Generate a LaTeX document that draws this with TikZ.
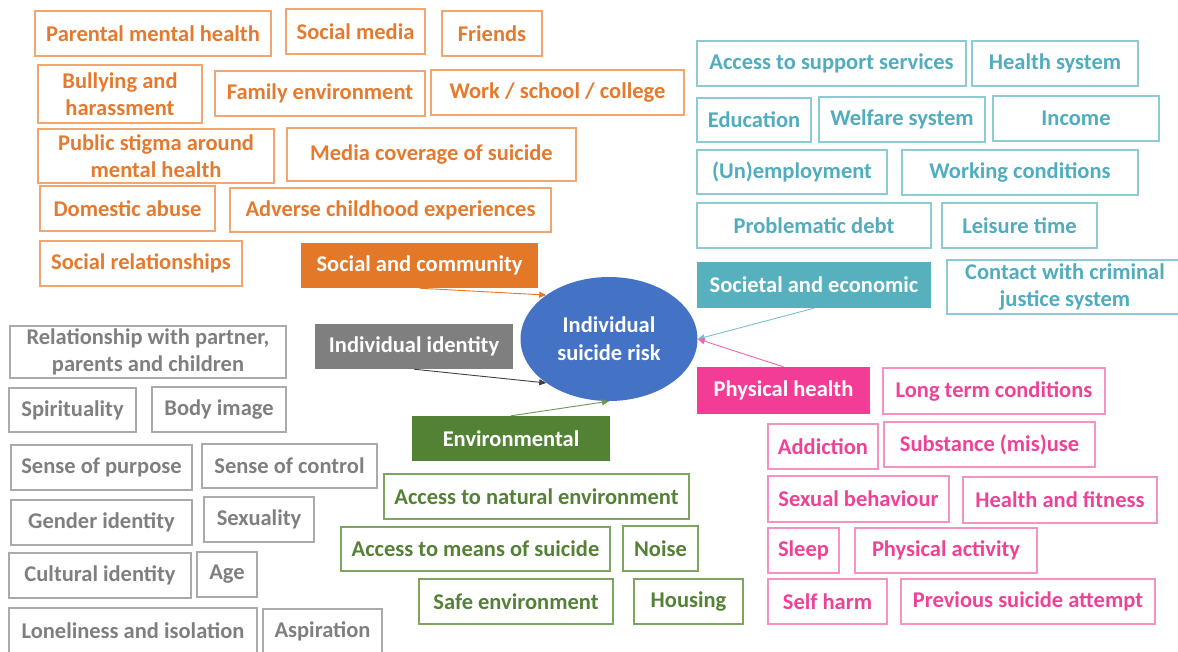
\documentclass[tikz,border=0pt]{standalone}
\usepackage{fontspec}
\setmainfont{Carlito}
\usetikzlibrary{shapes.geometric,arrows.meta}
\definecolor{orT}{RGB}{229,122,46}
\definecolor{orB}{RGB}{242,165,110}
\definecolor{orF}{RGB}{226,120,40}
\definecolor{tlT}{RGB}{80,172,190}
\definecolor{tlB}{RGB}{140,202,212}
\definecolor{tlF}{RGB}{86,176,190}
\definecolor{grT}{RGB}{127,127,127}
\definecolor{grB}{RGB}{170,170,170}
\definecolor{grF}{RGB}{127,127,127}
\definecolor{gnT}{RGB}{84,130,53}
\definecolor{gnB}{RGB}{125,165,95}
\definecolor{gnF}{RGB}{84,130,53}
\definecolor{pkT}{RGB}{238,66,150}
\definecolor{pkB}{RGB}{245,145,195}
\definecolor{pkF}{RGB}{242,60,150}
\definecolor{blF}{RGB}{68,114,196}
\tikzset{
  txt/.style={inner sep=0pt, align=center, font=\fontsize{22.5}{27}\selectfont\bfseries},
  bx/.style={txt, draw, line width=1.4pt},
  ob/.style={bx, draw=orB, text=orT},
  tb/.style={bx, draw=tlB, text=tlT},
  gb/.style={bx, draw=grB, text=grT},
  nb/.style={bx, draw=gnB, text=gnT},
  pb/.style={bx, draw=pkB, text=pkT},
  cat/.style={txt, text=white},
  arr/.style={line width=0.9pt, -{Triangle[length=7pt,width=6pt]}}
}
% #1 style, #2 x1, #3 y1, #4 x2, #5 y2, #6 name, #7 text
\newcommand\bxnode[7]{\node[#1, minimum width={(#4)-(#2)}, minimum height={(#5)-(#3)}] (#6) at ({((#2)+(#4))/2},{((#3)+(#5))/2}) {#7};}
\begin{document}
\begin{tikzpicture}[x=1pt,y=-1pt]
\useasboundingbox (0,0) rectangle (1178,651);
% orange
\bxnode{ob}{35}{11}{271}{56}{pmh}{Parental mental health}
\bxnode{ob}{286}{9}{425}{54}{smd}{Social media}
\bxnode{ob}{442}{11}{542}{56}{frd}{Friends}
\bxnode{ob}{38}{65}{202}{123}{bul}{Bullying and\\harassment}
\bxnode{ob}{215}{71}{425}{116}{fam}{Family environment}
\bxnode{ob}{431}{70}{684}{115}{wsc}{Work / school / college}
\bxnode{ob}{38}{129}{274}{183}{pst}{Public stigma around\\mental health}
\bxnode{ob}{287}{128}{576}{181}{mcs}{Media coverage of suicide}
\bxnode{ob}{40}{186}{215}{231}{dab}{Domestic abuse}
\bxnode{ob}{230}{188}{551}{232}{ace}{Adverse childhood experiences}
\bxnode{ob}{40}{241}{242}{286}{srl}{Social relationships}
% teal
\bxnode{tb}{697}{41}{966}{86}{ass}{Access to support services}
\bxnode{tb}{972}{41}{1138}{86}{hsy}{Health system}
\bxnode{tb}{697}{98}{811}{142}{edu}{Education}
\bxnode{tb}{819}{97}{985}{142}{wel}{Welfare system}
\bxnode{tb}{993}{96}{1159}{141}{inc}{Income}
\bxnode{tb}{697}{150}{887}{194}{une}{(Un)employment}
\bxnode{tb}{902}{150}{1138}{195}{wco}{Working conditions}
\bxnode{tb}{697}{203}{931}{248}{pdb}{Problematic debt}
\bxnode{tb}{942}{203}{1097}{248}{lei}{Leisure time}
\bxnode{tb}{947}{260}{1183}{314}{cjs}{Contact with criminal\\justice system}
% gray
\bxnode{gb}{10}{326}{286}{378}{rel}{Relationship with partner,\\parents and children}
\bxnode{gb}{9}{388}{136}{432}{spi}{Spirituality}
\bxnode{gb}{152}{387}{286}{432}{bim}{Body image}
\bxnode{gb}{11}{445}{192}{490}{pur}{Sense of purpose}
\bxnode{gb}{202}{444}{377}{488}{ctl}{Sense of control}
\bxnode{gb}{11}{500}{192}{545}{gid}{Gender identity}
\bxnode{gb}{204}{497}{314}{542}{sex}{Sexuality}
\bxnode{gb}{9}{553}{191}{598}{cid}{Cultural identity}
\bxnode{gb}{197}{552}{257}{597}{age}{Age}
\bxnode{gb}{9}{608}{257}{653}{lon}{Loneliness and isolation}
\bxnode{gb}{263}{609}{382}{653}{asp}{Aspiration}
% green
\bxnode{nb}{384}{474}{689}{519}{nat}{Access to natural environment}
\bxnode{nb}{341}{527}{610}{571}{mos}{Access to means of suicide}
\bxnode{nb}{623}{526}{698}{571}{noi}{Noise}
\bxnode{nb}{419}{579}{613}{624}{saf}{Safe environment}
\bxnode{nb}{634}{579}{743}{624}{hou}{Housing}
% pink
\bxnode{pb}{883}{368}{1105}{414}{ltc}{Long term conditions}
\bxnode{pb}{768}{424}{878}{469}{add}{Addiction}
\bxnode{pb}{884}{422}{1095}{467}{sub}{Substance (mis)use}
\bxnode{pb}{768}{476}{949}{522}{sxb}{Sexual behaviour}
\bxnode{pb}{963}{477}{1157}{523}{hfi}{Health and fitness}
\bxnode{pb}{768}{528}{839}{573}{slp}{Sleep}
\bxnode{pb}{855}{528}{1037}{573}{pac}{Physical activity}
\bxnode{pb}{768}{579}{887}{624}{shm}{Self harm}
\bxnode{pb}{901}{579}{1155}{624}{psa}{Previous suicide attempt}
% categories
\bxnode{cat,fill=orF}{301}{243}{538}{288}{soc}{Social and community}
\bxnode{cat,fill=grF}{315}{324}{513}{369}{idn}{Individual identity}
\bxnode{cat,fill=gnF}{412}{416}{610}{461}{env}{Environmental}
\bxnode{cat,fill=tlF}{697}{262}{931}{308}{sec}{Societal and economic}
\bxnode{cat,fill=pkF}{697}{367}{870}{414}{phy}{Physical health}
% centre
\node[ellipse, fill=blF, minimum width=177pt, minimum height=124pt, inner sep=0pt, text=white, align=center, font=\fontsize{22.5}{28}\selectfont\bfseries] (risk) at (609,339) {Individual\\suicide risk};
% arrows
\draw[arr, orF] (soc.south) -- (risk.145);
\draw[arr, black!75] (idn.south) -- (risk.215);
\draw[arr, gnF!85] (env.north) -- (risk.south);
\draw[arr, tlF!80] (sec.south) -- (risk.east);
\draw[arr, pkF!80] (phy.north) -- (risk.east);
\end{tikzpicture}
\end{document}
